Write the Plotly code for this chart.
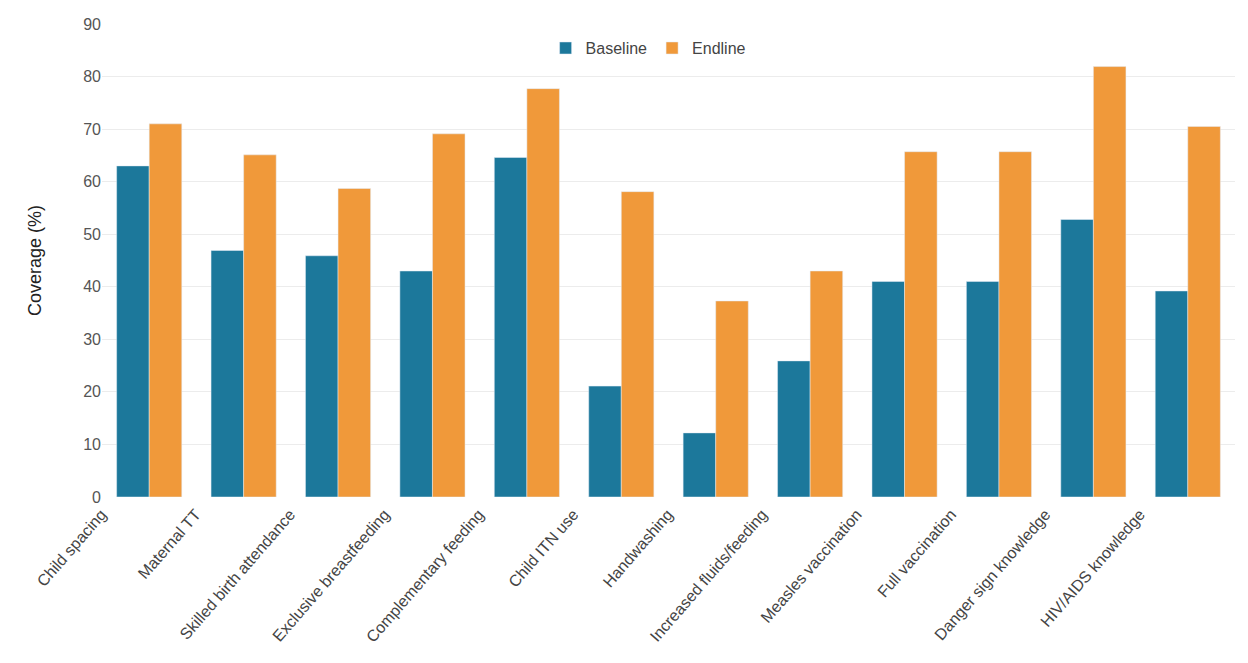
import plotly.graph_objects as go

categories = [
    "Child spacing", "Maternal TT", "Skilled birth attendance",
    "Exclusive breastfeeding", "Complementary feeding", "Child ITN use",
    "Handwashing", "Increased fluids/feeding", "Measles vaccination",
    "Full vaccination", "Danger sign knowledge", "HIV/AIDS knowledge",
]
baseline = [63.0, 46.9, 45.9, 43.0, 64.6, 21.1, 12.2, 25.9, 41.0, 41.0, 52.8, 39.2]
endline = [71.0, 65.1, 58.7, 69.1, 77.7, 58.1, 37.3, 43.0, 65.7, 65.7, 81.9, 70.5]
y_ticks = [0, 10, 20, 30, 40, 50, 60, 70, 80, 90]

BLUE = "#1c789b"
ORANGE = "#f0993a"
FONT = "Liberation Sans, Arial, sans-serif"

fig = go.Figure()
fig.add_trace(go.Bar(name="Baseline", x=categories, y=baseline, marker_color=BLUE))
fig.add_trace(go.Bar(name="Endline", x=categories, y=endline, marker_color=ORANGE))

fig.update_layout(
    width=1248, height=663,
    barmode="group", bargap=0.31, bargroupgap=0,
    paper_bgcolor="white", plot_bgcolor="white",
    margin=dict(l=102, r=13, t=24, b=166),
    font=dict(family=FONT, size=15, color="#555555"),
    legend=dict(
        orientation="h", x=0.482, xanchor="center", y=0.985, yanchor="top",
        font=dict(size=16, color="#444444"), itemwidth=30,
        traceorder="normal",
    ),
    xaxis=dict(
        tickangle=-49, tickfont=dict(size=16, color="#444444"),
        showline=False, ticks="", ticklabelshift=-48, ticklabelstandoff=4,
    ),
    yaxis=dict(
        range=[0, 90], tickvals=y_ticks, showgrid=True,
        gridcolor="#ececec", gridwidth=1, zeroline=False,
        tickfont=dict(size=16, color="#555555"), ticks="",
        title=dict(text="Coverage (%)", font=dict(size=18, color="#222222"), standoff=36),
    ),
)

fig.write_html("out.html")
